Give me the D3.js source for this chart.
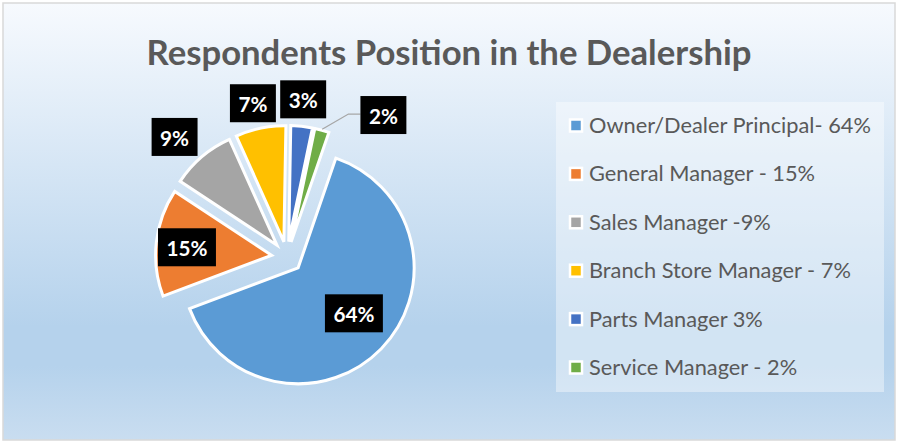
<!DOCTYPE html>
<html><head><meta charset="utf-8">
<script src="https://cdn.jsdelivr.net/npm/d3@7"></script>
<style>body{margin:0;background:#fff} svg{display:block}</style>
</head><body><svg id="c" width="898" height="443"></svg>
<script>
const title = "Respondents Position in the Dealership";
const categories = ["Owner/Dealer Principal","General Manager","Sales Manager","Branch Store Manager","Parts Manager","Service Manager"];
const values = [64,15,9,7,3,2];
const legendLabels = ["Owner/Dealer Principal- 64%","General Manager - 15%","Sales Manager -9%","Branch Store Manager - 7%","Parts Manager 3%","Service Manager - 2%"];
const dataLabels = ["64%","15%","9%","7%","3%","2%"];
const colors = ["#5b9bd5","#ed7d31","#a5a5a5","#ffc000","#4472c4","#70ad47"];

// layout
const W = 898, H = 443;
const cx = 287, cy = 257, R = 116, explode = 15.5, firstAngle = 19;
// label placement: [radius from slice centre, angle override in degrees or null]
const labelPlace = [[72,-5],[85,-1],[149,-3],[142,-1],[143,-0.6],[157,36]];

const svg = d3.select("#c");
const defs = svg.append("defs");
const g = defs.append("linearGradient").attr("id","bg").attr("x1",0).attr("y1",0).attr("x2",0).attr("y2",1);
[[0,"#f7fafe"],[0.74,"#b5d2ec"],[0.83,"#b5d2ec"],[1,"#c9ddf0"]].forEach(s=>g.append("stop").attr("offset",s[0]).attr("stop-color",s[1]));

svg.append("rect").attr("x",3).attr("y",3).attr("width",892).attr("height",437)
  .attr("fill","url(#bg)").attr("stroke","#d9d9d9").attr("stroke-width",1.5);

// title
const t = svg.append("text").attr("x",449).attr("y",65).attr("text-anchor","middle")
  .attr("font-family","Lato").attr("font-weight","bold").attr("font-size",36)
  .attr("fill","#595959").text(title);
fit(t, 605);

function fit(sel, target){
  const w = sel.node().getComputedTextLength();
  const fs = parseFloat(sel.attr("font-size"));
  sel.attr("font-size", fs*target/w);
  return fs*target/w;
}

// pie
const toRad = Math.PI/180;
const pie = d3.pie().sort(null).value(d=>d)
  .startAngle(firstAngle*toRad).endAngle(firstAngle*toRad + 2*Math.PI);
const arcs = pie(values);
const arc = d3.arc().innerRadius(0).outerRadius(R);
const pg = svg.append("g").attr("transform",`translate(${cx},${cy})`);
function off(d, dist){
  const m = (d.startAngle+d.endAngle)/2;
  return [Math.sin(m)*dist, -Math.cos(m)*dist];
}
pg.selectAll("path.s").data(arcs).join("path").attr("class","s")
  .attr("transform",d=>{const o=off(d,explode);return `translate(${o[0]},${o[1]})`;})
  .attr("d",arc).attr("fill",(d,i)=>colors[i])
  .attr("stroke","#fff").attr("stroke-width",3).attr("stroke-linejoin","miter");

// data labels
const lg = pg.append("g");
let labelFs = null;
arcs.forEach((d,i)=>{
  const o = off(d, explode);
  const m = (d.startAngle+d.endAngle)/2 + (labelPlace[i][1]===null?0:0);
  let ang = m + labelPlace[i][1]*toRad;
  if (i===5) ang = labelPlace[i][1]*toRad;
  const lx = o[0] + Math.sin(ang)*labelPlace[i][0];
  const ly = o[1] - Math.cos(ang)*labelPlace[i][0];
  const gg = lg.append("g");
  const rect = gg.append("rect").attr("fill","#000");
  const tx = gg.append("text").attr("x",lx).attr("y",ly).attr("text-anchor","middle")
    .attr("dominant-baseline","central")
    .attr("font-family","Lato").attr("font-weight","bold").attr("font-size",22)
    .attr("fill","#fff").text(dataLabels[i]);
  if (labelFs===null) labelFs = fit(tx, 41); else tx.attr("font-size", labelFs);
  const w = tx.node().getComputedTextLength() + 17;
  rect.attr("x",lx-w/2).attr("y",ly-19).attr("width",w).attr("height",38);
  tx.attr("y", ly+1);
  if (i===5){
    const p0 = [o[0]+Math.sin(m)*(R+1), o[1]-Math.cos(m)*(R+1)];
    const bx = lx - w/2;
    lg.insert("polyline",":first-child")
      .attr("points",[p0,[bx-12,ly-1],[bx,ly-1]].map(p=>p.join(",")).join(" "))
      .attr("fill","none").attr("stroke","#a6a6a6").attr("stroke-width",1.3);
  }
});

// legend
const lgd = svg.append("g");
lgd.append("rect").attr("x",556).attr("y",102).attr("width",328).attr("height",290)
  .attr("fill","#ffffff").attr("fill-opacity",0.4);
const y0 = 133, dy = 48.4;
let legFs = null;
legendLabels.forEach((lab,i)=>{
  const y = y0 + i*dy;
  lgd.append("rect").attr("x",570).attr("y",y-13.5).attr("width",12).attr("height",12)
    .attr("fill",colors[i]).attr("stroke","#fff").attr("stroke-width",2.5);
  const tx = lgd.append("text").attr("x",589).attr("y",y)
    .attr("font-family","Lato").attr("font-size",22).attr("fill","#595959").text(lab);
  if (legFs===null) legFs = fit(tx, 282); else tx.attr("font-size", legFs);
});
</script></body></html>
